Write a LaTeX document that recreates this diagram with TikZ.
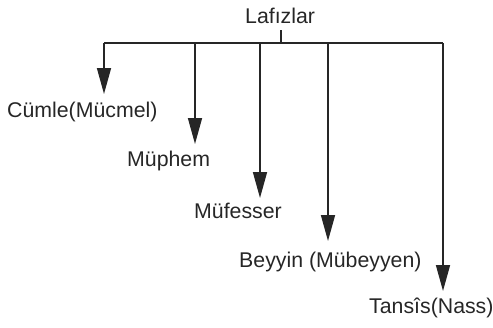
\documentclass[tikz,border=0pt]{standalone}
\usepackage{fontspec}
\setmainfont{Liberation Sans}
\usetikzlibrary{arrows.meta}
\begin{document}
\begin{tikzpicture}[x=1pt,y=-1pt,
  lbl/.style={inner sep=0pt,anchor=base west,font=\fontsize{21.3}{25}\selectfont,text=black!85},
  bar/.style={line width=1.8pt,black!85},
  branch/.style={line width=1.6pt,black!85,-{Triangle[width=14pt,length=26pt]}}]
  \useasboundingbox (0,0) rectangle (493,327);
  % root label and its stub
  \node[lbl] (root) at (245,23) {Lafızlar};
  \coordinate (stub) at (281,30);
  \coordinate (hub) at (281,43);
  % the horizontal distribution bar
  \coordinate (b1) at (104,43);
  \coordinate (b2) at (195,43);
  \coordinate (b3) at (260,43);
  \coordinate (b4) at (328,43);
  \coordinate (b5) at (443,43);
  \draw[bar] (stub) -- (hub);
  \draw[bar] (b1) -- (b5);
  % arrow tips
  \coordinate (t1) at (104,94);
  \coordinate (t2) at (195,144);
  \coordinate (t3) at (260,198);
  \coordinate (t4) at (328,241);
  \coordinate (t5) at (443,291);
  % leaf labels
  \node[lbl] (c1) at (7,117) {Cümle(Mücmel)};
  \node[lbl] (c2) at (127,166) {Müphem};
  \node[lbl] (c3) at (194,218) {Müfesser};
  \node[lbl] (c4) at (239,267) {Beyyin (Mübeyyen)};
  \node[lbl] (c5) at (369,313) {Tansîs(Nass)};
  % branches
  \draw[branch] (b1) -- (t1);
  \draw[branch] (b2) -- (t2);
  \draw[branch] (b3) -- (t3);
  \draw[branch] (b4) -- (t4);
  \draw[branch] (b5) -- (t5);
\end{tikzpicture}
\end{document}
